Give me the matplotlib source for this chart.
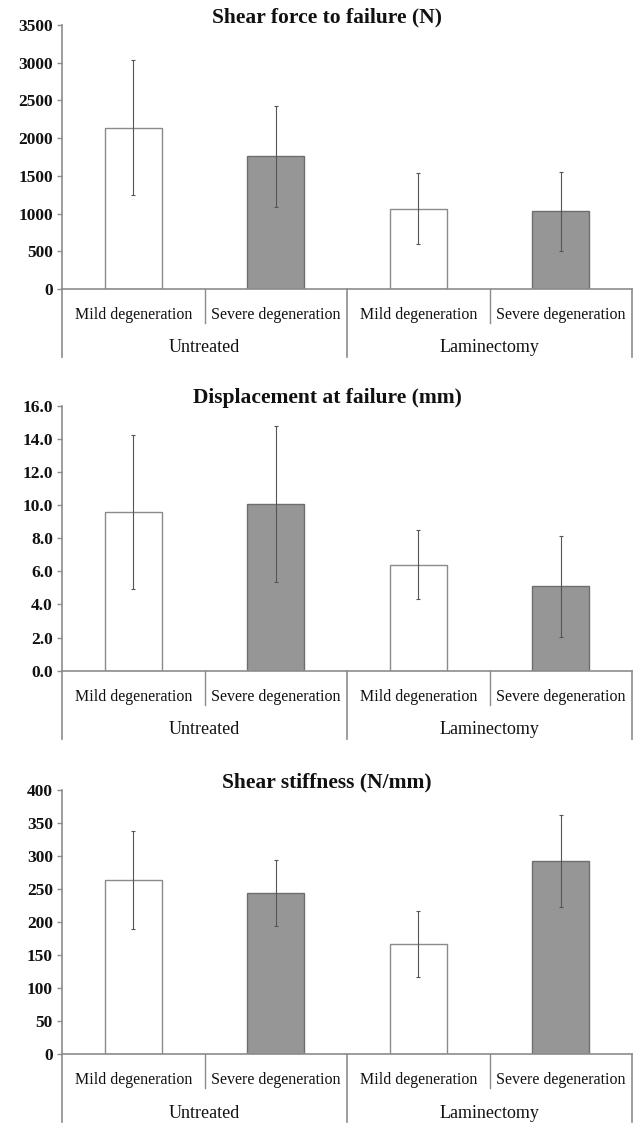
import matplotlib
matplotlib.use("Agg")
import matplotlib.pyplot as plt
import matplotlib.transforms as mtransforms
from matplotlib.ticker import FormatStrFormatter, MultipleLocator

plt.rcParams['font.family'] = ['Liberation Serif', 'DejaVu Serif']

# ========== DATA ========== #
categories = ["Mild degeneration", "Severe degeneration", "Mild degeneration", "Severe degeneration"]
groups = ["Untreated", "Laminectomy"]
titles = ["Shear force to failure (N)", "Displacement at failure (mm)", "Shear stiffness (N/mm)"]

force_mean = [2140, 1760, 1064, 1030]
force_err = [900, 667, 468, 525]
disp_mean = [9.57, 10.06, 6.40, 5.10]
disp_err = [4.66, 4.73, 2.08, 3.05]
stiff_mean = [264, 244, 167, 292]
stiff_err = [74, 50, 50, 70]

y_max = [3500, 16.0, 400]
y_step = [500, 2.0, 50]
y_fmt = ["%d", "%.1f", "%d"]

bar_colors = ["white", "#969696", "white", "#969696"]
edge_colors = ["#8a8a8a", "#6e6e6e", "#8a8a8a", "#6e6e6e"]

# ========== LAYOUT (pixels) ========== #
W, H = 637, 1123
left_px, right_px = 62, 632
panels_px = [(25, 289), (405.7, 670.7), (790, 1054)]
AXIS_GREY = "#8c8c8c"

fig = plt.figure(figsize=(W / 100, H / 100), dpi=100)

data = [(force_mean, force_err), (disp_mean, disp_err), (stiff_mean, stiff_err)]

for k, (means, errs) in enumerate(data):
    top, bot = panels_px[k]
    ax_h = bot - top
    ax = fig.add_axes([left_px / W, 1 - bot / H, (right_px - left_px) / W, ax_h / H])
    x = list(range(len(categories)))
    ax.bar(x, means, width=0.4, color=bar_colors, edgecolor=edge_colors, linewidth=1.0, zorder=2)
    ax.errorbar(x, means, yerr=errs, fmt="none", ecolor="#555555", elinewidth=0.8,
                capsize=1.5, capthick=0.8, zorder=3)

    ax.set_xlim(-0.5, len(categories) - 0.5)
    ax.set_ylim(0, y_max[k])
    ax.yaxis.set_major_locator(MultipleLocator(y_step[k]))
    ax.yaxis.set_major_formatter(FormatStrFormatter(y_fmt[k]))
    ax.tick_params(axis="y", direction="out", length=3.5, width=1.0, color=AXIS_GREY,
                   pad=3, labelsize=12.5, labelcolor="#111111")
    for lab in ax.get_yticklabels():
        lab.set_fontweight("bold")
    ax.set_xticks([])
    for s in ["top", "right"]:
        ax.spines[s].set_visible(False)
    for s in ["left", "bottom"]:
        ax.spines[s].set_color(AXIS_GREY)
        ax.spines[s].set_linewidth(1.2)

    # category axis: separators and labels below the baseline
    trans = mtransforms.blended_transform_factory(ax.transData, ax.transAxes)
    short = -34 / ax_h
    long_ = -68 / ax_h
    for xs in [0.5, 2.5]:
        ax.plot([xs, xs], [0, short], transform=trans, color=AXIS_GREY, lw=1.0, clip_on=False)
    for xs in [-0.5, 1.5, 3.5]:
        ax.plot([xs, xs], [0, long_], transform=trans, color=AXIS_GREY, lw=1.2, clip_on=False)
    for i, c in enumerate(categories):
        ax.text(i, -26 / ax_h, c, transform=trans, ha="center", va="center",
                fontsize=11.5, color="#111111")
    for g, name in enumerate(groups):
        ax.text(0.5 + 2 * g, -59 / ax_h, name, transform=trans, ha="center", va="center",
                fontsize=13, color="#111111")

    fig.text(327 / W, 1 - (top - 8) / H, titles[k], ha="center", va="center",
             fontsize=15.5, fontweight="bold", color="#111111")

fig.savefig("out.png", dpi=100, facecolor="white")
